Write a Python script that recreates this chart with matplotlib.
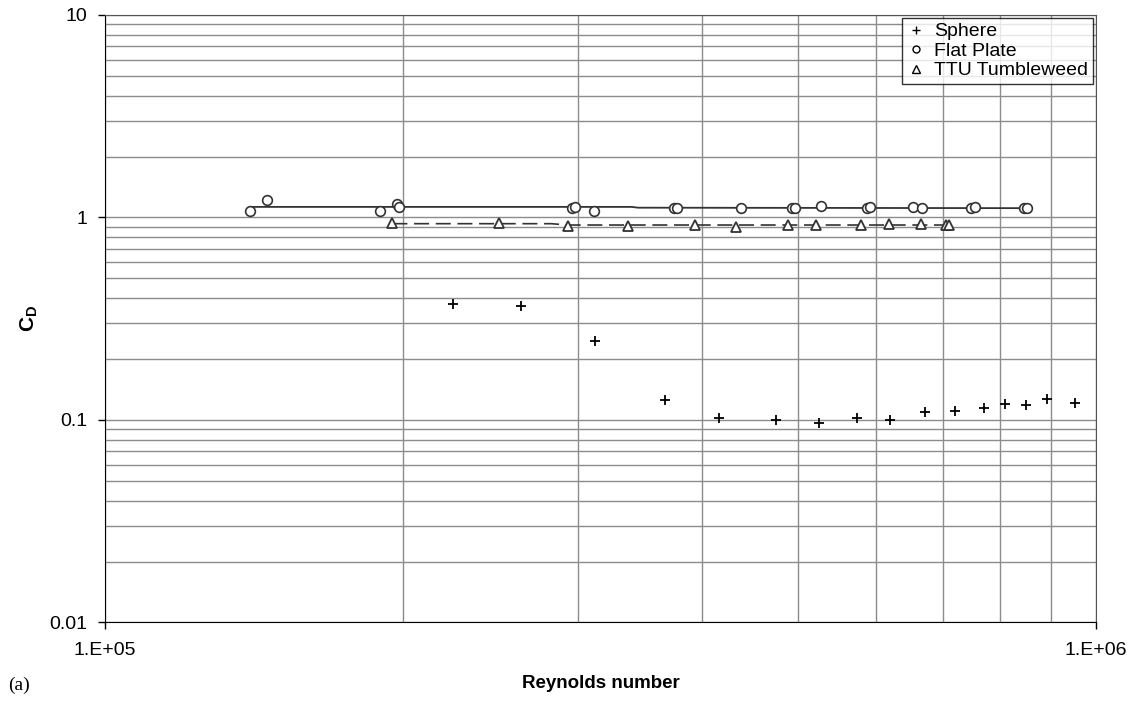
import matplotlib
matplotlib.use("Agg")
import matplotlib.pyplot as plt
from matplotlib.lines import Line2D
from matplotlib.ticker import LogLocator, NullFormatter, FixedLocator, FixedFormatter

plt.rcParams['font.family'] = ['Liberation Sans', 'DejaVu Sans']
plt.rcParams['mathtext.fontset'] = 'custom'
plt.rcParams['mathtext.rm'] = 'Liberation Sans'
plt.rcParams['mathtext.bf'] = 'Liberation Sans:bold'

# sphere data
sphere_re = [2.245e5, 2.627e5, 3.119e5, 3.673e5, 4.164e5, 4.758e5, 5.248e5, 5.745e5,
             6.197e5, 6.721e5, 7.206e5, 7.709e5, 8.10e5, 8.49e5, 8.92e5, 9.52e5]
sphere_cd = [0.373, 0.367, 0.246, 0.126, 0.102, 0.100, 0.097, 0.102,
             0.100, 0.109, 0.111, 0.114, 0.120, 0.118, 0.127, 0.121]

# flat plate data
plate_re = [1.40e5, 1.457e5, 1.895e5, 1.97e5, 1.98e5, 2.96e5, 2.98e5, 3.118e5,
            3.75e5, 3.78e5, 4.383e5, 4.93e5, 4.97e5, 5.276e5, 5.87e5, 5.91e5,
            6.54e5, 6.67e5, 7.48e5, 7.54e5, 8.45e5, 8.51e5]
plate_cd = [1.08, 1.22, 1.08, 1.166, 1.13, 1.12, 1.125, 1.08,
            1.11, 1.12, 1.11, 1.115, 1.12, 1.14, 1.12, 1.13,
            1.123, 1.115, 1.12, 1.125, 1.115, 1.12]
plate_fit_re = [1.40e5, 3.40e5, 3.45e5, 8.48e5]
plate_fit_cd = [1.128, 1.128, 1.118, 1.112]

# TTU tumbleweed data
ttu_re = [1.95e5, 2.497e5, 2.93e5, 3.37e5, 3.935e5, 4.33e5, 4.887e5, 5.215e5,
          5.795e5, 6.18e5, 6.655e5, 7.06e5, 7.10e5]
ttu_cd = [0.936, 0.936, 0.909, 0.909, 0.918, 0.902, 0.918, 0.918,
          0.918, 0.927, 0.927, 0.918, 0.918]
ttu_fit_re = [1.95e5, 2.82e5, 2.93e5, 7.10e5]
ttu_fit_cd = [0.932, 0.932, 0.918, 0.918]

fig = plt.figure(figsize=(11.37, 7.04), dpi=100)
ax = fig.add_axes([0.0923, 0.1158, 0.8717, 0.8629])

ax.set_xscale('log')
ax.set_yscale('log')
ax.set_xlim(1e5, 1e6)
ax.set_ylim(0.01, 10)

ax.xaxis.set_major_locator(FixedLocator([1e5, 1e6]))
ax.xaxis.set_major_formatter(FixedFormatter(['1.E+05', '1.E+06']))
ax.xaxis.set_minor_locator(LogLocator(base=10, subs=range(2, 10)))
ax.xaxis.set_minor_formatter(NullFormatter())
ax.yaxis.set_major_locator(FixedLocator([0.01, 0.1, 1, 10]))
ax.yaxis.set_major_formatter(FixedFormatter(['0.01', '0.1', '1', '10']))
ax.yaxis.set_minor_locator(LogLocator(base=10, subs=range(2, 10)))
ax.yaxis.set_minor_formatter(NullFormatter())

ax.grid(True, which='both', color='#8c8c8c', linewidth=1.0)
ax.set_axisbelow(True)
ax.tick_params(which='major', direction='out', length=5, width=1, labelsize=14)
ax.tick_params(axis='y', which='major', pad=8)
ax.tick_params(axis='x', which='major', pad=9)
ax.tick_params(which='minor', length=0)
for s in ['top', 'right']:
    ax.spines[s].set_color('#555555')
for s in ['left', 'bottom']:
    ax.spines[s].set_color('black')

ax.plot(plate_fit_re, plate_fit_cd, color='#333333', linewidth=1.3, zorder=2)
ax.plot(ttu_fit_re, ttu_fit_cd, color='#333333', linewidth=1.2, dashes=(9, 4), zorder=2)

ax.plot(sphere_re, sphere_cd, linestyle='none', marker='+', markersize=7.5,
        markeredgewidth=1.3, color='black', zorder=3)
ax.plot(plate_re, plate_cd, linestyle='none', marker='o', markersize=7,
        markerfacecolor='white', markeredgecolor='#333333', markeredgewidth=1.2, zorder=3)
ax.plot(ttu_re, ttu_cd, linestyle='none', marker='^', markersize=7.5,
        markerfacecolor='white', markeredgecolor='#333333', markeredgewidth=1.3, zorder=3)

handles = [
    Line2D([], [], linestyle='none', marker='+', markersize=6, color='black'),
    Line2D([], [], linestyle='none', marker='o', markersize=5, markerfacecolor='white',
           markeredgecolor='black'),
    Line2D([], [], linestyle='none', marker='^', markersize=6, markerfacecolor='white',
           markeredgecolor='black'),
]
leg = ax.legend(handles, ['Sphere', 'Flat Plate', 'TTU Tumbleweed'], loc='upper right',
                fontsize=14, frameon=True, fancybox=False, shadow=False,
                borderaxespad=0.15, handlelength=0.9, handletextpad=0.5,
                labelspacing=0.1, borderpad=0.25)
leg.get_frame().set_edgecolor('black')
leg.get_frame().set_linewidth(1.0)

ax.set_xlabel('Reynolds number', fontsize=13.5, fontweight='bold')
ax.xaxis.set_label_coords(0.5, -0.086)
ax.set_ylabel(r'$\mathbf{C_D}$', fontsize=15)
ax.yaxis.set_label_coords(-0.0656, 0.5)

fig.text(0.007, 0.02, '(a)', fontsize=14, family='Liberation Serif')

fig.savefig('out.png', dpi=100)
